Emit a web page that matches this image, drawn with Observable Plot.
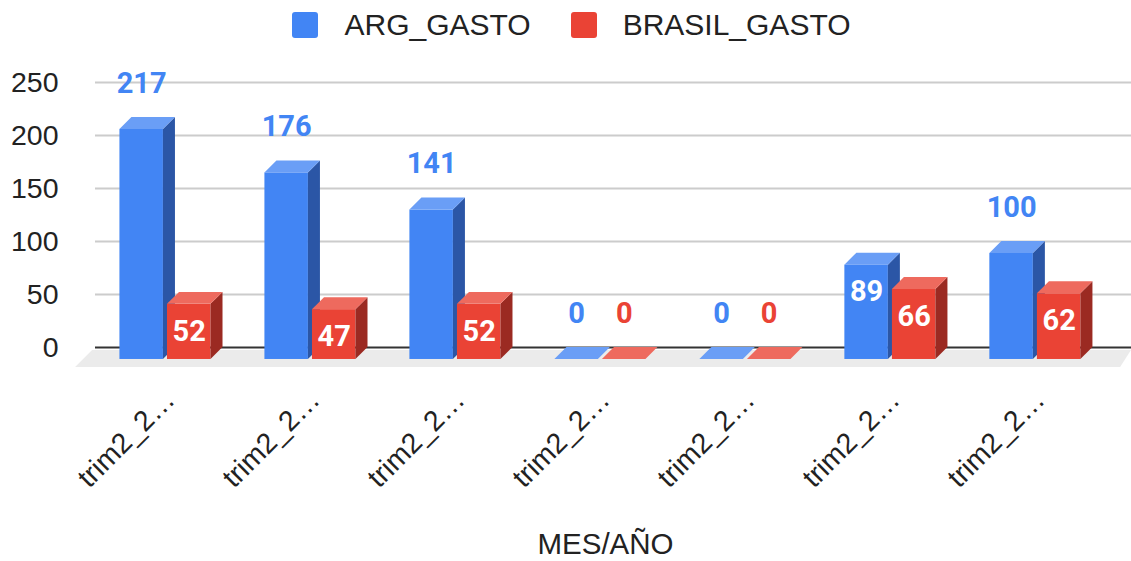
<!DOCTYPE html>
<html><head><meta charset="utf-8">
<script src="https://cdn.jsdelivr.net/npm/d3@7"></script>
<script src="https://cdn.jsdelivr.net/npm/@observablehq/plot@0.6"></script>
<style>
body{margin:0;background:#fff;font-family:"Liberation Sans",Arial,sans-serif;}
#legend{height:50px;display:flex;align-items:center;justify-content:center;font-size:30px;color:#222;padding-left:12px;box-sizing:border-box;}
.item{display:flex;align-items:center;margin:0 20px;}
.sw{width:26px;height:26px;border-radius:3px;margin-right:26px;}
</style></head><body>
<div id="legend"></div>
<div id="chart"></div>
<script>
// ---- data ----
const tickLabels = ["trim2_2…","trim2_2…","trim2_2…","trim2_2…","trim2_2…","trim2_2…","trim2_2…"];
const seriesNames = ["ARG_GASTO","BRASIL_GASTO"];
const argGasto = [217,176,141,0,0,89,100];
const brasilGasto = [52,47,52,0,0,66,62];
const yTicks = [0,50,100,150,200,250];
const xTitle = "MES/AÑO";

// ---- styling ----
const palette = {
  ARG_GASTO: {front:"#4285F4", top:"#6A9EF6", side:"#2B56A6"},
  BRASIL_GASTO: {front:"#EA4335", top:"#EE6A5E", side:"#9B2A22"}
};
const barW = 0.300, gap = 0.014;   // group units
const dX = 0.083, dY = 11.3;       // 3D depth (group units, value units)
const insideMax = 95;

const bars = [];
seriesNames.forEach((s, si) => {
  const vals = si === 0 ? argGasto : brasilGasto;
  vals.forEach((v, i) => {
    const xl = si === 0 ? i - gap - barW : i + gap;
    bars.push({id: s + i, series: s, i, v, xl, xr: xl + barW});
  });
});
const sideRows = bars.flatMap(b => [
  {id:b.id, series:b.series, x:b.xr - dX, y1:-dY, y2:b.v - dY},
  {id:b.id, series:b.series, x:b.xr, y1:0, y2:b.v}
]);
const topRows = bars.flatMap(b => [
  {id:b.id, series:b.series, y:b.v - dY, x1:b.xl - dX, x2:b.xr - dX},
  {id:b.id, series:b.series, y:b.v, x1:b.xl, x2:b.xr}
]);
const xDom = [-0.5655, 6.58];
const fd = 0.117;
const floorRows = [
  {y:-2.8, x1:xDom[0] - 0.02, x2:xDom[1]},
  {y:-18.9, x1:xDom[0] - 0.02 - fd, x2:xDom[1] - 0.075}
];

function seriesMarks(s) {
  const c = palette[s];
  return [
    Plot.rect(bars.filter(b => b.series === s && b.v > 0), {x1: b => b.xl - dX, x2: b => b.xr - dX, y1: -dY, y2: b => b.v - dY, fill: c.front}),
    Plot.areaY(sideRows.filter(r => r.series === s), {x:"x", y1:"y1", y2:"y2", z:"id", fill:c.side}),
    Plot.areaX(topRows.filter(r => r.series === s), {y:"y", x1:"x1", x2:"x2", z:"id", fill:c.top})
  ];
}

const outside = bars.filter(b => !(b.v > 0 && b.v < insideMax));
const inside = bars.filter(b => b.v > 0 && b.v < insideMax);

const chart = Plot.plot({
  width: 1131,
  height: 511,
  marginTop: 32,
  marginBottom: 192.8,
  marginLeft: 95,
  marginRight: 0,
  style: {fontFamily: "'Liberation Sans', Arial, sans-serif", fontSize: "28px", color: "#222", background: "#fff", overflow: "visible"},
  x: {type: "linear", domain: xDom, axis: null},
  y: {domain: [-20, 250], axis: null},
  marks: [
    Plot.ruleY(yTicks.filter(t => t > 0), {stroke: "#cccccc", strokeWidth: 2}),
    Plot.areaX(floorRows, {y: "y", x1: "x1", x2: "x2", fill: "#ebebeb"}),
    Plot.ruleY([0], {stroke: "#333", strokeWidth: 2}),
    Plot.axisY(yTicks, {tickSize: 0, tickPadding: 37, fontSize: 28.5, label: null}),
    ...seriesMarks("ARG_GASTO"),
    ...seriesMarks("BRASIL_GASTO"),
    Plot.text(outside, {x: b => (b.xl + b.xr) / 2 - dX, y: "v", dy: -34, text: b => String(b.v),
      fill: b => palette[b.series].front, fontWeight: "bold", fontSize: 29, fontFamily: "Roboto"}),
    Plot.text(inside, {x: b => (b.xl + b.xr) / 2 - dX, y: "v", dy: 39, text: b => String(b.v),
      fill: "#fff", fontWeight: "bold", fontSize: 29, fontFamily: "Roboto"}),
    Plot.text(tickLabels, {x: (d, i) => i, frameAnchor: "bottom", rotate: -45, textAnchor: "end",
      dx: -1, dy: 33, fontSize: 28.5, fill: "#222"}),
    Plot.text([xTitle], {frameAnchor: "bottom", dx: -8, dy: 185, fontSize: 29.5, fill: "#222"})
  ]
});
document.getElementById("chart").appendChild(chart);

const legend = document.getElementById("legend");
seriesNames.forEach(s => {
  const it = document.createElement("div");
  it.className = "item";
  const sw = document.createElement("span");
  sw.className = "sw";
  sw.style.background = palette[s].front;
  const t = document.createElement("span");
  t.textContent = s;
  it.appendChild(sw); it.appendChild(t);
  legend.appendChild(it);
});
</script>
</body></html>
